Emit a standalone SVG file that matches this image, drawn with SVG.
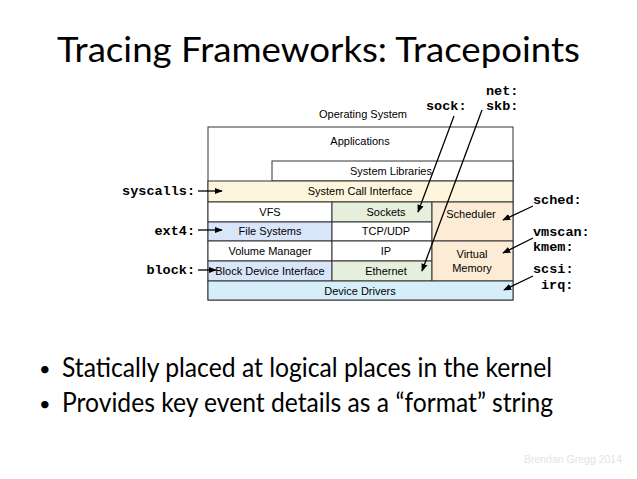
<svg xmlns="http://www.w3.org/2000/svg" width="638" height="479" viewBox="0 0 638 479">
<style>
.box{stroke:#333;stroke-width:1}
.t{font-family:"Liberation Sans",Arial,sans-serif;font-size:11px;fill:#000;text-anchor:middle}
.m{font-family:"Liberation Mono","Courier New",monospace;font-size:13.5px;font-weight:bold;fill:#000}
.ln{stroke:#000;stroke-width:1.3;fill:none}
</style>
<defs>
<marker id="ah" viewBox="0 0 10 10" refX="9" refY="5" markerWidth="8" markerHeight="8" markerUnits="userSpaceOnUse" orient="auto">
<path d="M0,1 L10,5 L0,9 Z" fill="#000"/>
</marker>
</defs>
<rect width="638" height="479" fill="#fff"/>
<line x1="637.5" y1="0" x2="637.5" y2="479" stroke="#ccc"/>
<text x="57" y="62" font-family="Lato,'Open Sans',sans-serif" font-size="35" fill="#000" textLength="523" lengthAdjust="spacingAndGlyphs">Tracing Frameworks: Tracepoints</text>

<g id="os-label"><text class="t" x="363" y="118">Operating System</text></g>
<g id="applications"><rect class="box" x="208" y="127" width="305" height="173" fill="#fff"/><text class="t" x="360" y="145">Applications</text></g>
<g id="system-libraries"><rect class="box" x="272" y="161" width="241" height="20" fill="#fff"/><text class="t" x="391" y="175">System Libraries</text></g>
<g id="syscall-interface"><rect class="box" x="208" y="181" width="305" height="21" fill="#fdf6dd"/><text class="t" x="360" y="195">System Call Interface</text></g>
<g id="vfs"><rect class="box" x="208" y="202" width="124" height="20" fill="#fff"/><text class="t" x="270" y="216">VFS</text></g>
<g id="file-systems"><rect class="box" x="208" y="222" width="124" height="19" fill="#d9e5f8"/><text class="t" x="270" y="235">File Systems</text></g>
<g id="volume-manager"><rect class="box" x="208" y="241" width="124" height="20" fill="#fff"/><text class="t" x="270" y="255">Volume Manager</text></g>
<g id="block-device"><rect class="box" x="208" y="261" width="124" height="20" fill="#d9e5f8"/><text class="t" x="270" y="275">Block Device Interface</text></g>
<g id="sockets"><rect class="box" x="332" y="202" width="100" height="20" fill="#e5efdc"/><text class="t" x="386" y="216">Sockets</text></g>
<g id="tcp-udp"><rect class="box" x="332" y="222" width="100" height="19" fill="#fff"/><text class="t" x="386" y="235">TCP/UDP</text></g>
<g id="ip"><rect class="box" x="332" y="241" width="100" height="20" fill="#fff"/><text class="t" x="386" y="255">IP</text></g>
<g id="ethernet"><rect class="box" x="332" y="261" width="100" height="20" fill="#e5efdc"/><text class="t" x="386" y="275">Ethernet</text></g>
<g id="scheduler"><rect class="box" x="432" y="202" width="81" height="39" fill="#fdecd5"/><text class="t" x="471" y="218">Scheduler</text></g>
<g id="virtual-memory"><rect class="box" x="432" y="241" width="81" height="40" fill="#fdecd5"/><text class="t" x="472" y="258">Virtual</text><text class="t" x="472" y="272">Memory</text></g>
<g id="device-drivers"><rect class="box" x="208" y="281" width="305" height="19" fill="#d5eef9"/><text class="t" x="360" y="295">Device Drivers</text></g>

<g id="labels">
<text class="m" x="195" y="195" text-anchor="end">syscalls:</text>
<text class="m" x="195" y="235" text-anchor="end">ext4:</text>
<text class="m" x="195" y="274" text-anchor="end">block:</text>
<text class="m" x="426" y="110">sock:</text>
<text class="m" x="486" y="95">net:</text>
<text class="m" x="486" y="110">skb:</text>
<text class="m" x="533" y="204">sched:</text>
<text class="m" x="533" y="236">vmscan:</text>
<text class="m" x="533" y="251">kmem:</text>
<text class="m" x="533" y="273">scsi:</text>
<text class="m" x="541" y="289">irq:</text>
</g>

<g id="connectors">
<line class="ln" x1="198" y1="191" x2="222" y2="191" marker-end="url(#ah)"/>
<line class="ln" x1="198" y1="230" x2="222" y2="230" marker-end="url(#ah)"/>
<line class="ln" x1="198" y1="270" x2="216" y2="270" marker-end="url(#ah)"/>
<line class="ln" x1="454" y1="116" x2="418" y2="212" marker-end="url(#ah)"/>
<line class="ln" x1="482" y1="110" x2="422" y2="271" marker-end="url(#ah)"/>
<line class="ln" x1="533" y1="206" x2="503" y2="220" marker-end="url(#ah)"/>
<line class="ln" x1="533" y1="238" x2="503" y2="253" marker-end="url(#ah)"/>
<line class="ln" x1="533" y1="276" x2="504" y2="290" marker-end="url(#ah)"/>
</g>

<g id="bullets" font-family="Lato,'Open Sans',sans-serif" font-size="26" fill="#000">
<text x="39" y="376" font-size="20">•</text>
<text x="62" y="377" textLength="490" lengthAdjust="spacingAndGlyphs">Statically placed at logical places in the kernel</text>
<text x="39" y="411" font-size="20">•</text>
<text x="62" y="412" textLength="491" lengthAdjust="spacingAndGlyphs">Provides key event details as a “format” string</text>
</g>
<text x="622" y="463" font-family="'Liberation Sans',Arial,sans-serif" font-size="10.5" fill="#e3e3e3" text-anchor="end">Brendan Gregg 2014</text>
</svg>
